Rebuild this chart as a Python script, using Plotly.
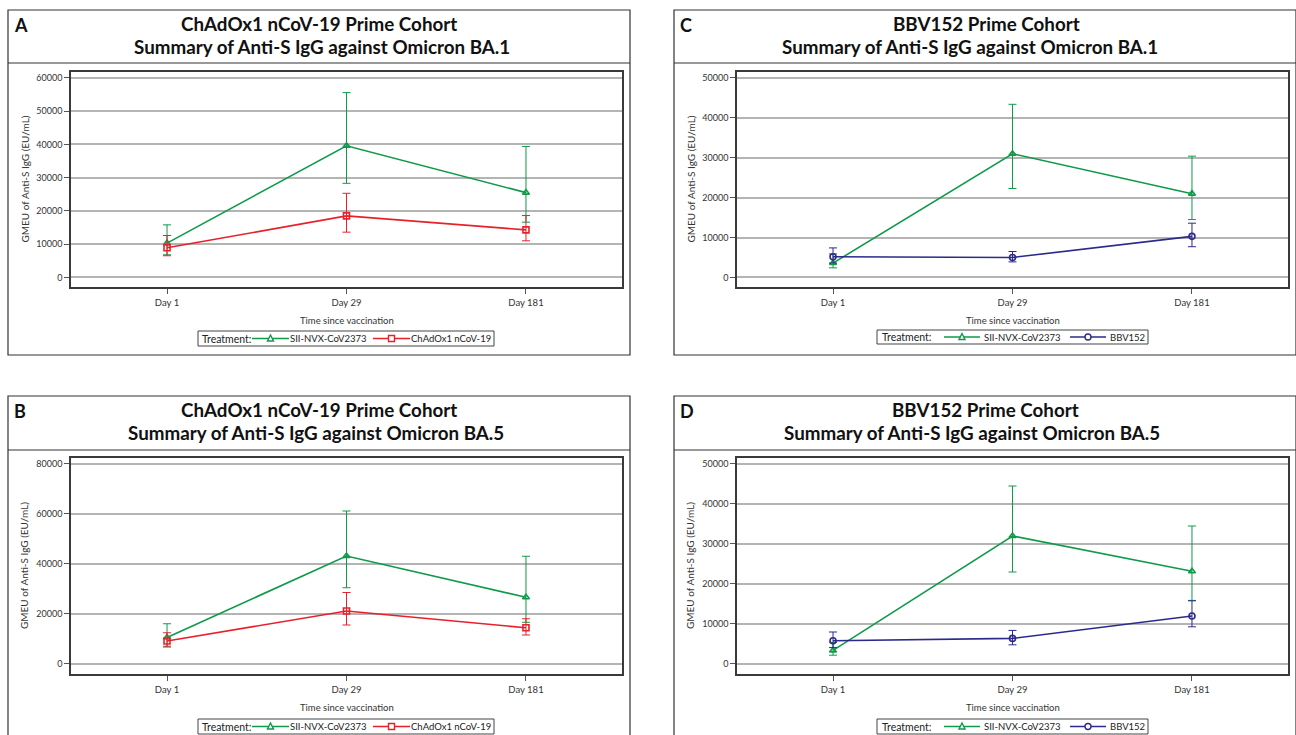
import plotly.graph_objects as go

W, H = 1296, 735

days = ["Day 1", "Day 29", "Day 181"]

# Panel A: ChAdOx1 prime, BA.1
a_sii_gm = [10300, 39600, 25500]
a_sii_lo = [6800, 28300, 16600]
a_sii_hi = [15800, 55600, 39400]
a_chad_gm = [8900, 18500, 14300]
a_chad_lo = [6500, 13600, 11000]
a_chad_hi = [12600, 25300, 18600]

# Panel B: ChAdOx1 prime, BA.5
b_sii_gm = [10500, 43100, 26600]
b_sii_lo = [7000, 30400, 16600]
b_sii_hi = [16000, 61100, 43000]
b_chad_gm = [9100, 21100, 14400]
b_chad_lo = [6700, 15500, 11500]
b_chad_hi = [12400, 28500, 18000]

# Panel C: BBV152 prime, BA.1
c_sii_gm = [3600, 31000, 21000]
c_sii_lo = [2400, 22300, 14500]
c_sii_hi = [5900, 43400, 30400]
c_bbv_gm = [5200, 5000, 10300]
c_bbv_lo = [3600, 3900, 7700]
c_bbv_hi = [7400, 6500, 13600]

# Panel D: BBV152 prime, BA.5
d_sii_gm = [3300, 31900, 23100]
d_sii_lo = [2100, 22900, 15800]
d_sii_hi = [5300, 44400, 34400]
d_bbv_gm = [5700, 6300, 11900]
d_bbv_lo = [4000, 4700, 9200]
d_bbv_hi = [7900, 8300, 15700]

labels = ["A", "B", "C", "D"]
line1 = ["ChAdOx1 nCoV-19 Prime Cohort", "ChAdOx1 nCoV-19 Prime Cohort",
         "BBV152 Prime Cohort", "BBV152 Prime Cohort"]
line2 = ["Summary of Anti-S IgG against Omicron BA.1", "Summary of Anti-S IgG against Omicron BA.5",
         "Summary of Anti-S IgG against Omicron BA.1", "Summary of Anti-S IgG against Omicron BA.5"]
ytick_vals = [[0, 10000, 20000, 30000, 40000, 50000, 60000],
              [0, 20000, 40000, 60000, 80000],
              [0, 10000, 20000, 30000, 40000, 50000],
              [0, 10000, 20000, 30000, 40000, 50000]]
yranges = [[-2900, 61800], [-4100, 82300], [-2400, 51500], [-2600, 51400]]
x_title = "Time since vaccination"
y_title = "GMEU of Anti-S IgG (EU/mL)"
legend_title = "Treatment:"
sii_name = "SII-NVX-CoV2373"
comp_names = ["ChAdOx1 nCoV-19", "ChAdOx1 nCoV-19", "BBV152", "BBV152"]

GREEN = "#0f9a4a"
RED = "#e8202a"
NAVY = "#2c2a8a"
comp_colors = [RED, RED, NAVY, NAVY]
comp_symbols = ["square-open", "square-open", "circle-open", "circle-open"]

series = [
    (a_sii_gm, a_sii_lo, a_sii_hi, a_chad_gm, a_chad_lo, a_chad_hi),
    (b_sii_gm, b_sii_lo, b_sii_hi, b_chad_gm, b_chad_lo, b_chad_hi),
    (c_sii_gm, c_sii_lo, c_sii_hi, c_bbv_gm, c_bbv_lo, c_bbv_hi),
    (d_sii_gm, d_sii_lo, d_sii_hi, d_bbv_gm, d_bbv_lo, d_bbv_hi),
]

# layout geometry in pixels
panel_x0 = [8, 8, 674, 674]
panel_y0 = [10, 396, 10, 396]
sep_y = [63, 450, 63, 450]
frame_x = [(71, 622), (71, 622), (737, 1288), (737, 1288)]
frame_y = [(72, 287), (458, 674), (72, 287), (458, 674)]
title1_cx = [319, 319, 986, 985]
title2_cx = [322, 316, 970, 972]
# legend geometry: box x0, x1, y0, y1, title x, [line x0, x1, label x] per item
leg_box = [(198, 494, 331, 346), (198, 494, 719, 734), (877, 1148, 330, 344), (877, 1148, 719, 734)]
leg_title_x = [201, 201, 881, 881]
leg_items = [[(252, 289, 289), (373, 410, 410)],
             [(252, 289, 289), (373, 410, 410)],
             [(944, 980, 983), (1070, 1106, 1109)],
             [(944, 980, 983), (1070, 1106, 1109)]]

FONT = "Lato"

def px(x):
    return x / W

def py(y):
    return 1 - y / H

fig = go.Figure()
layout = dict(width=W, height=H, margin=dict(l=0, r=0, t=0, b=0),
              paper_bgcolor="white", plot_bgcolor="white", showlegend=False,
              font=dict(family=FONT, color="#333"))
shapes = []
annotations = []

xvals = list(range(len(days)))


def marker_shape(kind, cx, cy, color):
    s = 3
    if kind.startswith("square"):
        return dict(type="rect", xref="paper", yref="paper",
                    x0=px(cx - s), x1=px(cx + s), y0=py(cy + s), y1=py(cy - s),
                    line=dict(color=color, width=1.4), fillcolor="white")
    if kind.startswith("circle"):
        return dict(type="circle", xref="paper", yref="paper",
                    x0=px(cx - s), x1=px(cx + s), y0=py(cy + s), y1=py(cy - s),
                    line=dict(color=color, width=1.4), fillcolor="white")
    path = "M {} {} L {} {} L {} {} Z".format(px(cx - s), py(cy + 2.5), px(cx + s), py(cy + 2.5),
                                              px(cx), py(cy - 3.5))
    return dict(type="path", xref="paper", yref="paper", path=path,
                line=dict(color=color, width=1.4), fillcolor="white")


for i in range(4):
    sfx = "" if i == 0 else str(i + 1)
    xa, ya = "x" + sfx, "y" + sfx
    sgm, slo, shi, cgm, clo, chi = series[i]
    fig.add_trace(go.Scatter(
        x=xvals, y=sgm, xaxis=xa, yaxis=ya, mode="lines+markers", name=sii_name,
        line=dict(color=GREEN, width=1.6),
        marker=dict(symbol="triangle-up-open", size=6, color=GREEN, line=dict(width=1.6, color=GREEN)),
        error_y=dict(type="data", symmetric=False,
                     array=[h - g for h, g in zip(shi, sgm)],
                     arrayminus=[g - l for g, l in zip(sgm, slo)],
                     color=GREEN, thickness=1, width=4),
    ))
    fig.add_trace(go.Scatter(
        x=xvals, y=cgm, xaxis=xa, yaxis=ya, mode="lines+markers", name=comp_names[i],
        line=dict(color=comp_colors[i], width=1.6),
        marker=dict(symbol=comp_symbols[i], size=6, color=comp_colors[i],
                    line=dict(width=1.6, color=comp_colors[i])),
        error_y=dict(type="data", symmetric=False,
                     array=[h - g for h, g in zip(chi, cgm)],
                     arrayminus=[g - l for g, l in zip(cgm, clo)],
                     color=comp_colors[i], thickness=1, width=4),
    ))
    fx0, fx1 = frame_x[i]
    fy0, fy1 = frame_y[i]
    layout["xaxis" + sfx] = dict(
        domain=[px(fx0), px(fx1)], anchor=ya, range=[-0.535, 2.535],
        tickvals=xvals, ticktext=days, ticks="outside", ticklen=5, tickcolor="#555",
        ticklabelstandoff=1,
        showgrid=False, zeroline=False, showline=True, mirror=True,
        linecolor="#3a3a3a", linewidth=1.5, tickfont=dict(size=9.5, color="#333", family=FONT),
        fixedrange=True,
    )
    layout["yaxis" + sfx] = dict(
        domain=[py(fy1), py(fy0)], anchor=xa, range=yranges[i],
        tickvals=ytick_vals[i], ticktext=[str(v) for v in ytick_vals[i]],
        ticks="outside", ticklen=5, tickcolor="#555",
        showgrid=True, gridcolor="#b4b4b4", gridwidth=1.6, zeroline=False,
        showline=True, mirror=True, linecolor="#3a3a3a", linewidth=1.5,
        tickfont=dict(size=9, color="#333", family=FONT), fixedrange=True,
    )
    # outer panel box
    bx0 = panel_x0[i]
    by0 = panel_y0[i]
    bx1 = bx0 + 622
    by1 = by0 + 345
    shapes.append(dict(type="rect", xref="paper", yref="paper",
                       x0=px(bx0), x1=px(bx1), y0=py(by1), y1=py(by0),
                       line=dict(color="#333", width=1.2), fillcolor="rgba(0,0,0,0)", layer="below"))
    shapes.append(dict(type="line", xref="paper", yref="paper",
                       x0=px(bx0), x1=px(bx1), y0=py(sep_y[i]), y1=py(sep_y[i]),
                       line=dict(color="#333", width=1.2)))
    # titles
    annotations.append(dict(text="<b>" + labels[i] + "</b>", xref="paper", yref="paper",
                            x=px(bx0 + 4), y=py(by0 + 15), xanchor="left", yanchor="middle",
                            showarrow=False, font=dict(size=18, color="#111", family=FONT)))
    annotations.append(dict(text="<b>" + line1[i] + "</b>", xref="paper", yref="paper",
                            x=px(title1_cx[i]), y=py(by0 + 14), xanchor="center", yanchor="middle",
                            showarrow=False, font=dict(size=18.8, color="#111", family=FONT)))
    annotations.append(dict(text="<b>" + line2[i] + "</b>", xref="paper", yref="paper",
                            x=px(title2_cx[i]), y=py(by0 + 36), xanchor="center", yanchor="middle",
                            showarrow=False, font=dict(size=18.8, color="#111", family=FONT)))
    # axis titles
    annotations.append(dict(text=x_title, xref="paper", yref="paper",
                            x=px((fx0 + fx1) / 2), y=py(fy1 + 33), xanchor="center", yanchor="middle",
                            showarrow=False, font=dict(size=9.5, color="#333", family=FONT)))
    annotations.append(dict(text=y_title, xref="paper", yref="paper",
                            x=px(fx0 - 47), y=py((fy0 + fy1) / 2), xanchor="center", yanchor="middle",
                            textangle=-90, showarrow=False, font=dict(size=10, color="#333", family=FONT)))
    # legend (drawn manually)
    lx0, lx1, ly0, ly1 = leg_box[i]
    lcy = (ly0 + ly1) / 2
    shapes.append(dict(type="rect", xref="paper", yref="paper",
                       x0=px(lx0), x1=px(lx1), y0=py(ly1), y1=py(ly0),
                       line=dict(color="#444", width=1), fillcolor="white"))
    annotations.append(dict(text=legend_title, xref="paper", yref="paper",
                            x=px(leg_title_x[i]), y=py(lcy), xanchor="left", yanchor="middle",
                            showarrow=False, borderpad=0, font=dict(size=10.5, color="#222", family=FONT)))
    names = [sii_name, comp_names[i]]
    colors = [GREEN, comp_colors[i]]
    symbols = ["triangle-up-open", comp_symbols[i]]
    for (ix0, ix1, tx), nm, col, sym in zip(leg_items[i], names, colors, symbols):
        shapes.append(dict(type="line", xref="paper", yref="paper",
                           x0=px(ix0), x1=px(ix1), y0=py(lcy), y1=py(lcy),
                           line=dict(color=col, width=1.6)))
        shapes.append(marker_shape(sym, (ix0 + ix1) / 2, lcy, col))
        annotations.append(dict(text=nm, xref="paper", yref="paper",
                                x=px(tx), y=py(lcy), xanchor="left", yanchor="middle",
                                showarrow=False, borderpad=0, font=dict(size=9.5, color="#222", family=FONT)))

layout["shapes"] = shapes
layout["annotations"] = annotations
fig.update_layout(**layout)
fig.write_html("out.html")
